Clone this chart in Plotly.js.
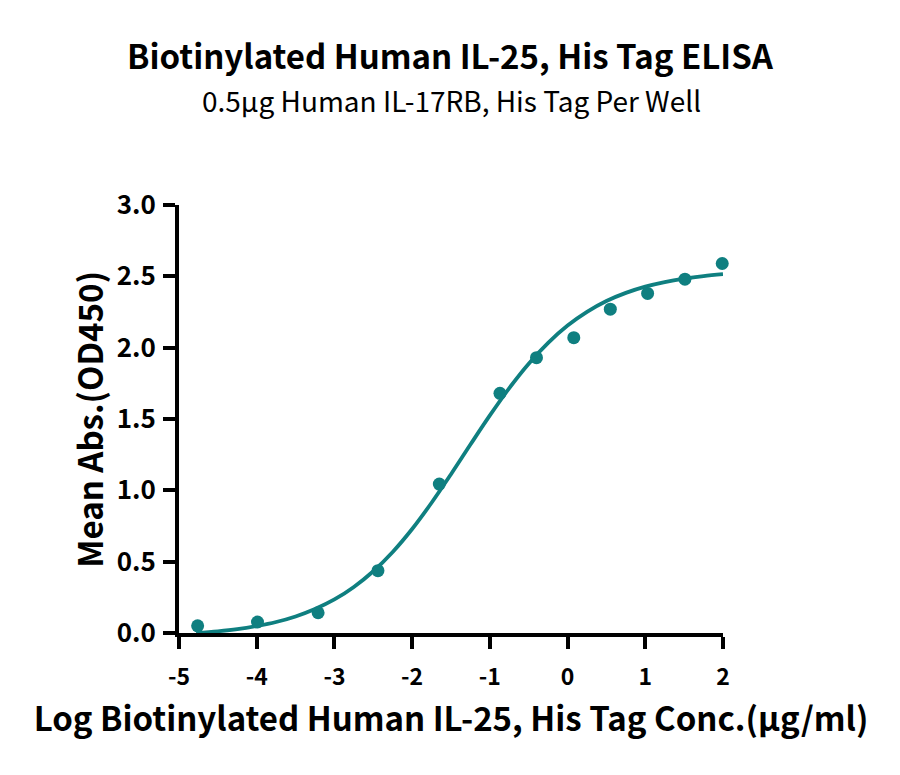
<!DOCTYPE html>
<html>
<head>
<meta charset="utf-8">
<script src="https://cdn.plot.ly/plotly-3.0.1.min.js"></script>
<style>
  body { margin: 0; background: #fff; }
  #myDiv { width: 900px; height: 775px; }
</style>
</head>
<body>
<div id="myDiv"></div>
<script>
// measured points, log conc vs mean OD450
var log_conc = [-4.76, -3.99, -3.21, -2.44, -1.65, -0.87, -0.40, 0.08, 0.55, 1.03, 1.51, 1.99];
var mean_abs = [0.05, 0.077, 0.142, 0.437, 1.044, 1.68, 1.93, 2.07, 2.27, 2.38, 2.48, 2.59];

// fitted curve
var fit_x = [-4.78, -4.5, -4.25, -4.0, -3.75, -3.5, -3.25, -3.0, -2.75, -2.5, -2.25, -2.0, -1.75, -1.5,
             -1.25, -1.0, -0.75, -0.5, -0.25, 0.0, 0.25, 0.5, 0.75, 1.0, 1.25, 1.5, 1.75, 2.0];
var fit_y = [0.0, 0.012, 0.027, 0.049, 0.077, 0.116, 0.168, 0.235, 0.323, 0.433, 0.568, 0.729, 0.913, 1.113,
             1.321, 1.525, 1.717, 1.888, 2.034, 2.155, 2.251, 2.327, 2.384, 2.428, 2.46, 2.484, 2.502, 2.515];

var x_ticks = [-5, -4, -3, -2, -1, 0, 1, 2];
var y_ticks = [0, 0.5, 1.0, 1.5, 2.0, 2.5, 3.0];

var teal = '#0f7f80';
var font = '"Noto Sans CJK SC", "Noto Sans", sans-serif';

var curve = {
  x: fit_x,
  y: fit_y,
  type: 'scatter',
  mode: 'lines',
  line: {color: teal, width: 3.8, shape: 'spline', smoothing: 1},
  hoverinfo: 'skip',
  cliponaxis: false
};

var points = {
  x: log_conc,
  y: mean_abs,
  type: 'scatter',
  mode: 'markers',
  marker: {color: teal, size: 13},
  cliponaxis: false
};

var layout = {
  width: 900,
  height: 775,
  showlegend: false,
  paper_bgcolor: '#fff',
  plot_bgcolor: '#fff',
  margin: {l: 179, r: 177, t: 205, b: 142},
  font: {family: font, color: '#000'},
  title: {
    text: '<b>Biotinylated Human IL-25, His Tag ELISA</b>',
    x: 0.5,
    xanchor: 'center',
    y: 0.926,
    yanchor: 'middle',
    font: {family: font, size: 33, color: '#000'}
  },
  annotations: [{
    text: '0.5μg Human IL-17RB, His Tag Per Well',
    xref: 'paper', yref: 'paper',
    x: 0.5, y: 1.245,
    xanchor: 'center', yanchor: 'middle',
    showarrow: false,
    font: {family: font, size: 28, color: '#000'}
  }, {
    // y axis title
    text: '<b>Mean Abs.(OD450)</b>',
    xref: 'paper', yref: 'paper',
    x: -0.166, y: 0.5,
    xanchor: 'center', yanchor: 'middle',
    textangle: -90,
    showarrow: false,
    font: {family: font, size: 33, color: '#000'}
  }],
  xaxis: {
    range: [-5, 2],
    tickvals: x_ticks,
    ticktext: x_ticks.map(String),
    showgrid: false,
    zeroline: false,
    showline: true,
    linecolor: '#000',
    linewidth: 4,
    ticks: 'outside',
    ticklen: 12,
    tickwidth: 4,
    tickcolor: '#000',
    ticklabelstandoff: 8,
    tickfont: {family: font, size: 23, color: '#000', weight: 'bold'},
    title: {
      text: '<b>Log Biotinylated Human IL-25, His Tag Conc.(μg/ml)</b>',
      font: {family: font, size: 33, color: '#000'},
      standoff: 18
    }
  },
  yaxis: {
    range: [0, 3],
    tickvals: y_ticks,
    ticktext: y_ticks.map(function(v){ return v.toFixed(1); }),
    showgrid: false,
    zeroline: false,
    showline: true,
    linecolor: '#000',
    linewidth: 4,
    ticks: 'outside',
    ticklen: 12,
    tickwidth: 4,
    tickcolor: '#000',
    ticklabelstandoff: 2,
    tickfont: {family: font, size: 26, color: '#000', weight: 'bold'}
  }
};

Plotly.newPlot('myDiv', [curve, points], layout, {displayModeBar: false, staticPlot: true});
</script>
</body>
</html>
